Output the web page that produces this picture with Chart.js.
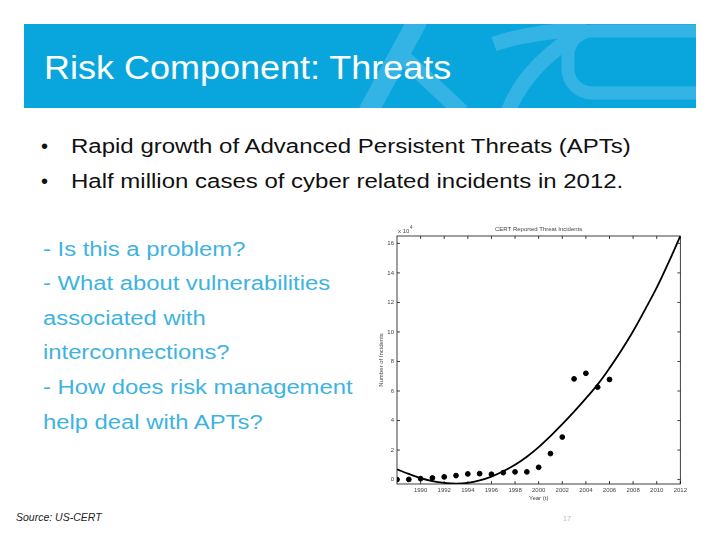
<!DOCTYPE html>
<html>
<head>
<meta charset="utf-8">
<title>Risk Component: Threats</title>
<script src="https://cdn.jsdelivr.net/npm/chart.js@4.4.1/dist/chart.umd.min.js"></script>
<style>
  body { margin: 0; width: 720px; height: 540px; background: #fff; overflow: hidden; position: relative;
         font-family: "Liberation Sans", Arial, sans-serif; }
  #bar { position: absolute; left: 24px; top: 24px; width: 672px; height: 84px; background: #08a6dc; overflow: hidden; }
  #bar svg { position: absolute; left: 0; top: 0; }
  #bar h1 { position: absolute; left: 20px; top: 26px; margin: 0; font-weight: normal; font-size: 33px;
            line-height: 36px; color: #fff; white-space: nowrap; transform: scaleX(1.09); transform-origin: 0 0; }
  .bullet { position: absolute; left: 41px; font-size: 20px; line-height: 35px; color: #111; }
  .item { position: absolute; left: 71px; font-size: 20px; line-height: 35px; color: #111; white-space: nowrap;
          transform: scaleX(1.2); transform-origin: 0 0; }
  #questions { position: absolute; left: 43px; top: 231.6px; margin: 0; font-size: 20px; line-height: 34.6px;
               color: #3eb3e0; white-space: nowrap; transform: scaleX(1.19); transform-origin: 0 0; }
  #source { position: absolute; left: 16px; top: 511px; font-size: 10.5px; font-style: italic; color: #222; }
  #page { position: absolute; left: 563px; top: 515px; font-size: 7px; color: #bbb; }
  #chart-box { position: absolute; left: 365px; top: 215px; width: 325px; height: 295px; }
</style>
</head>
<body>
<div id="bar">
  <svg width="672" height="84" viewBox="24 24 672 84">
    <g fill="none" stroke="#34b4e4" stroke-linecap="butt">
      <path d="M368 112 L418 20" stroke-width="20"/>
      <path d="M398 52 L462 112" stroke-width="16"/>
      <path d="M494 44 C522 34 560 30 586 30 C548 50 520 80 508 112" stroke-width="15"/>
      <rect x="568" y="31" width="150" height="62" rx="24" stroke-width="13"/>
    </g>
  </svg>
  <h1>Risk Component: Threats</h1>
</div>

<div class="bullet" style="top:129px">•</div>
<div class="item" style="top:129px">Rapid growth of Advanced Persistent Threats (APTs)</div>
<div class="bullet" style="top:164px">•</div>
<div class="item" style="top:164px">Half million cases of cyber related incidents in 2012.</div>

<p id="questions">- Is this a problem?<br>- What about vulnerabilities<br>associated with<br>interconnections?<br>- How does risk management<br>help deal with APTs?</p>

<div id="source">Source: US-CERT</div>
<div id="page">17</div>

<div id="chart-box"><canvas id="cert-chart"></canvas></div>

<script>
// reported incidents, units of 10^4
const years = [1988, 1989, 1990, 1991, 1992, 1993, 1994, 1995, 1996, 1997,
               1998, 1999, 2000, 2001, 2002, 2003, 2004, 2005, 2006];
const incidents = [0.0, 0.01, 0.06, 0.11, 0.18, 0.27, 0.38, 0.40, 0.36, 0.47,
                   0.52, 0.52, 0.83, 1.76, 2.88, 6.82, 7.20, 6.26, 6.78];

// fitted trend curve
const fitYears = [1988, 1989, 1990, 1991, 1992, 1993, 1994, 1995, 1996, 1997, 1998, 1999, 2000,
                  2001, 2002, 2003, 2004, 2005, 2006, 2007, 2008, 2009, 2010, 2011, 2012];
const fitValues = [0.70, 0.38, 0.10, -0.10, -0.22, -0.27, -0.22, -0.06, 0.20, 0.56, 1.00, 1.55, 2.20,
                   2.95, 3.75, 4.60, 5.50, 6.45, 7.55, 8.75, 10.05, 11.50, 13.00, 14.70, 16.50];

const xTicks = [1990, 1992, 1994, 1996, 1998, 2000, 2002, 2004, 2006, 2008, 2010, 2012];
const yTicks = [0, 2, 4, 6, 8, 10, 12, 14, 16];

const tickFont = { family: 'Liberation Sans, Arial, sans-serif', size: 6 };
const tickColor = '#444';

// MATLAB-like frame: box around the axes with inward ticks on every side
const frame = {
  id: 'frame',
  afterDraw(chart) {
    const { ctx, chartArea: a, scales: { x, y } } = chart;
    ctx.save();
    ctx.strokeStyle = '#111';
    ctx.lineWidth = 0.8;
    ctx.strokeRect(a.left, a.top, a.right - a.left, a.bottom - a.top);
    ctx.beginPath();
    xTicks.forEach(t => {
      const px = x.getPixelForValue(t);
      ctx.moveTo(px, a.bottom); ctx.lineTo(px, a.bottom - 3);
      ctx.moveTo(px, a.top); ctx.lineTo(px, a.top + 3);
    });
    yTicks.forEach(t => {
      const py = y.getPixelForValue(t);
      ctx.moveTo(a.left, py); ctx.lineTo(a.left + 3, py);
      ctx.moveTo(a.right, py); ctx.lineTo(a.right - 3, py);
    });
    ctx.stroke();

    // title and exponent
    ctx.fillStyle = tickColor;
    ctx.font = '6px "Liberation Sans", Arial, sans-serif';
    ctx.textAlign = 'center';
    ctx.textBaseline = 'middle';
    ctx.fillText('CERT Reported Threat Incidents', (a.left + a.right) / 2, a.top - 7);
    ctx.textAlign = 'left';
    ctx.fillText('x 10', a.left + 1, a.top - 5);
    ctx.font = '4.5px "Liberation Sans", Arial, sans-serif';
    ctx.fillText('4', a.left + 13, a.top - 8);
    ctx.restore();
  }
};

const ctx = document.getElementById('cert-chart').getContext('2d');
new Chart(ctx, {
  type: 'scatter',
  data: {
    datasets: [
      {
        label: 'Reported incidents',
        data: years.map((yr, i) => ({ x: yr, y: incidents[i] })),
        backgroundColor: '#000',
        borderColor: '#000',
        pointRadius: 2.4,
        pointHoverRadius: 2.4
      },
      {
        label: 'Fit',
        data: fitYears.map((yr, i) => ({ x: yr, y: fitValues[i] })),
        showLine: true,
        borderColor: '#000',
        borderWidth: 1.8,
        pointRadius: 0,
        tension: 0.4
      }
    ]
  },
  options: {
    responsive: true,
    maintainAspectRatio: false,
    animation: false,
    layout: { padding: { left: 0, right: 8, top: 21, bottom: 0 } },
    plugins: {
      legend: { display: false },
      tooltip: { enabled: false }
    },
    scales: {
      x: {
        type: 'linear',
        min: 1988,
        max: 2012,
        afterBuildTicks: s => { s.ticks = xTicks.map(v => ({ value: v })); },
        afterFit: s => { s.height = 26; },
        grid: { display: false, drawTicks: false },
        border: { display: false },
        ticks: { font: tickFont, color: tickColor, padding: 3, maxRotation: 0, autoSkip: false,
                 callback: v => String(v) },
        title: { display: true, text: 'Year (t)', font: tickFont, color: tickColor, padding: { top: 0, bottom: 8 } }
      },
      y: {
        min: -0.3,
        max: 16.5,
        afterBuildTicks: s => { s.ticks = yTicks.map(v => ({ value: v })); },
        afterFit: s => { s.width = 32; },
        grid: { display: false, drawTicks: false },
        border: { display: false },
        ticks: { font: tickFont, color: tickColor, padding: 3, callback: v => String(v) },
        title: { display: true, text: 'Number of Incidents', font: tickFont, color: tickColor, padding: { top: 13, bottom: 0 } }
      }
    }
  },
  plugins: [frame]
});
</script>
</body>
</html>
